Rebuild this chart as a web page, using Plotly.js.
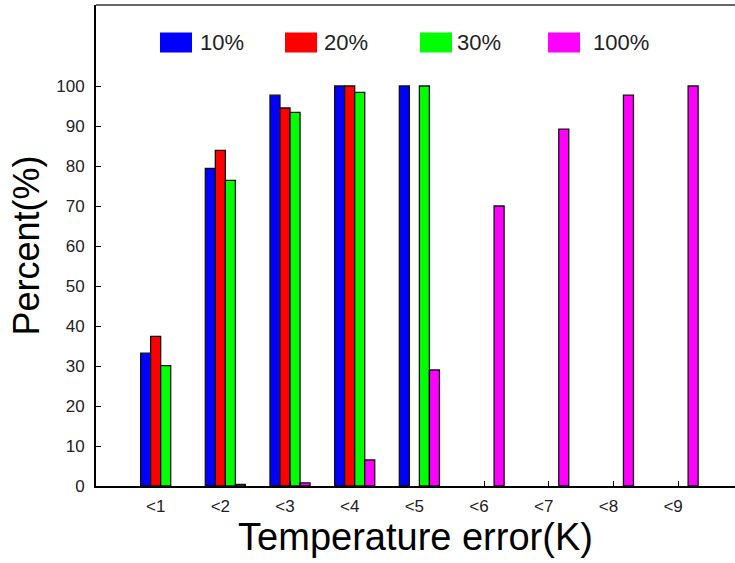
<!DOCTYPE html>
<html>
<head>
<meta charset="utf-8">
<script src="https://cdn.plot.ly/plotly-3.0.1.min.js"></script>
<style>
  html, body { margin: 0; padding: 0; background: #fff; }
  #chart { width: 735px; height: 563px; }
</style>
</head>
<body>
<div id="chart"></div>
<script>
// ---- data ----
var categories = ['<1', '<2', '<3', '<4', '<5', '<6', '<7', '<8', '<9'];
var seriesNames = ['10%', '20%', '30%', '100%'];
var pct10  = [33.2, 79.4, 97.7, 100, 100, 0, 0, 0, 0];
var pct20  = [37.4, 83.9, 94.5, 100, 0, 0, 0, 0, 0];
var pct30  = [30.1, 76.4, 93.4, 98.4, 100, 0, 0, 0, 0];
var pct100 = [0, 0.4, 0.8, 6.5, 29, 70, 89.2, 97.7, 100];
var yTicks = [0, 10, 20, 30, 40, 50, 60, 70, 80, 90, 100];

// ---- styles ----
var colors = ['#0000ff', '#ff0000', '#00ff00', '#ff00ff'];
var seriesValues = [pct10, pct20, pct30, pct100];
var FONT = 'Liberation Sans, Arial, sans-serif';
var TXT = '#222222';

var traces = seriesValues.map(function (vals, i) {
  return {
    type: 'bar',
    name: seriesNames[i],
    x: categories,
    // zero-height bars are not drawn in the reference
    y: vals.map(function (v) { return v === 0 ? null : v; }),
    marker: { color: colors[i], line: { color: '#111111', width: 1.3 } },
    hoverinfo: 'x+y+name'
  };
});

// plot area in pixels (for custom legend placement)
var M = { l: 96, r: 0, t: 5, b: 77 };
var W = 735, H = 563;
var pw = W - M.l - M.r, ph = H - M.t - M.b;
function px(x) { return (x - M.l) / pw; }
function py(y) { return (H - M.b - y) / ph; }

var legendBoxes = [160, 285, 420, 548];   // left pixel of each legend swatch
var legendText  = [198, 322, 455, 591];   // left pixel of each label
var shapes = [];
var annotations = [];
for (var i = 0; i < seriesNames.length; i++) {
  shapes.push({
    type: 'rect', xref: 'paper', yref: 'paper',
    x0: px(legendBoxes[i]), x1: px(legendBoxes[i] + 32),
    y0: py(52.5), y1: py(32.5),
    fillcolor: colors[i], line: { width: 0 }
  });
  annotations.push({
    xref: 'paper', yref: 'paper',
    x: px(legendText[i]), y: py(42.5),
    xanchor: 'left', yanchor: 'middle',
    text: seriesNames[i], showarrow: false,
    font: { family: FONT, size: 22, color: TXT }
  });
}
// top frame line
shapes.push({
  type: 'line', xref: 'paper', yref: 'paper',
  x0: 0, x1: 1, y0: 1, y1: 1,
  line: { color: '#666666', width: 2 }
});

var layout = {
  width: W, height: H,
  margin: M,
  paper_bgcolor: '#ffffff',
  plot_bgcolor: '#ffffff',
  showlegend: false,
  barmode: 'group',
  bargap: 0.38,
  bargroupgap: 0,
  font: { family: FONT, color: TXT },
  xaxis: {
    type: 'category',
    range: [-1, 8.88],
    showline: true, linecolor: '#000000', linewidth: 2,
    showgrid: false, zeroline: false,
    ticks: 'inside', ticklen: 5, tickcolor: '#000000', tickwidth: 1,
    tickfont: { family: FONT, size: 17, color: TXT },
    ticklabelstandoff: 4,
    ticklabelshift: -5,
    title: { text: 'Temperature error(K)', font: { family: FONT, size: 38, color: '#000000' }, standoff: 6 }
  },
  yaxis: {
    range: [0, 120.25],
    tickmode: 'array', tickvals: yTicks, ticktext: yTicks.map(String),
    showline: true, linecolor: '#000000', linewidth: 2,
    showgrid: false, zeroline: false,
    ticks: 'inside', ticklen: 5, tickcolor: '#000000', tickwidth: 1,
    tickfont: { family: FONT, size: 17, color: TXT },
    ticklabelstandoff: 6,
    title: { text: 'Percent(%)', font: { family: FONT, size: 36, color: '#000000' }, standoff: 6 }
  },
  shapes: shapes,
  annotations: annotations
};

Plotly.newPlot('chart', traces, layout, { displayModeBar: false, staticPlot: true });
</script>
</body>
</html>
